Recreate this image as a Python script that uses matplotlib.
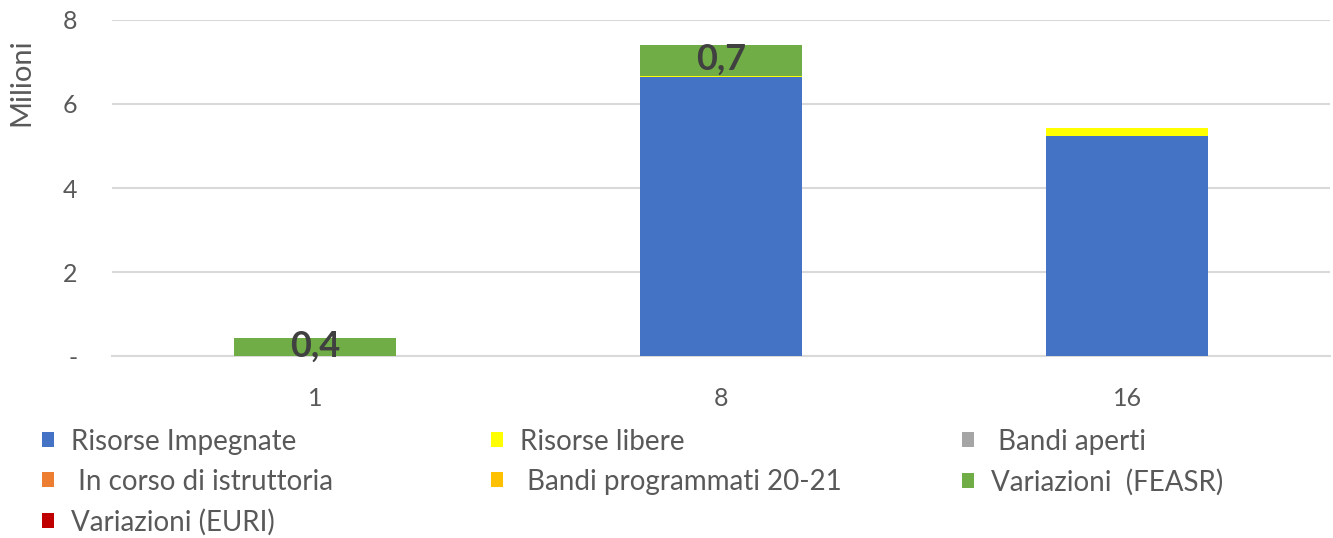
import numpy as np
import matplotlib
matplotlib.use('Agg')
import matplotlib.pyplot as plt
from matplotlib.patches import Patch

# Dati (milioni)
categorie = ['1', '8', '16']
risorse_impegnate = [0.0, 6.63, 5.23]
risorse_libere = [0.0, 0.03, 0.19]
bandi_aperti = [0.0, 0.0, 0.0]
in_istruttoria = [0.0, 0.0, 0.0]
bandi_programmati = [0.0, 0.0, 0.0]
variazioni_feasr = [0.43, 0.74, 0.0]
variazioni_euri = [0.0, 0.0, 0.0]
etichette_feasr = ['0,4', '0,7', '']

serie = [
    ('Risorse Impegnate', risorse_impegnate, '#4472C4'),
    ('Risorse libere', risorse_libere, '#FFFF00'),
    (' Bandi aperti', bandi_aperti, '#A5A5A5'),
    (' In corso di istruttoria', in_istruttoria, '#ED7D31'),
    (' Bandi programmati 20-21', bandi_programmati, '#FFC000'),
    ('Variazioni  (FEASR)', variazioni_feasr, '#70AD47'),
    ('Variazioni (EURI)', variazioni_euri, '#C00000'),
]

plt.rcParams['font.family'] = ['Lato', 'DejaVu Sans']
testo = '#595959'

fig = plt.figure(figsize=(13.33, 5.38), dpi=100)
ax = fig.add_axes([0.084, 0.338, 0.914, 0.625])

x = np.arange(len(categorie))
base = np.zeros(len(categorie))
for nome, valori, colore in serie:
    valori = np.array(valori)
    ax.bar(x, valori, 0.4, bottom=base, color=colore, zorder=3)
    if nome == 'Variazioni  (FEASR)':
        for xi, b, v, t in zip(x, base, valori, etichette_feasr):
            if t:
                ax.text(xi, b + v / 2 + 0.03, t, ha='center', va='center',
                        fontsize=26, fontweight='bold', color='#404040', zorder=4)
    base = base + valori

ax.set_xlim(-0.5, 2.5)
ax.set_ylim(0, 8)
ax.set_yticks([0, 2, 4, 6, 8])
ax.set_yticklabels(['-', '2', '4', '6', '8'])
ax.set_xticks(x)
ax.set_xticklabels(categorie)
ax.tick_params(axis='both', length=0, labelsize=18, colors=testo)
ax.tick_params(axis='y', pad=25)
ax.tick_params(axis='x', pad=22)
ax.grid(axis='y', color='#D9D9D9', linewidth=1.5, zorder=0)
for s in ['top', 'right', 'left']:
    ax.spines[s].set_visible(False)
ax.spines['bottom'].set_color('#D9D9D9')
ax.spines['bottom'].set_linewidth(1.5)
ax.set_ylabel('Milioni', fontsize=21, color=testo)
ax.yaxis.set_label_coords(-0.064, 0.815)

# Legenda in tre colonne, righe ordinate come nell'originale
maniglie = [Patch(facecolor=c, label=n) for n, _, c in serie]
colonne = [[0, 3, 6], [1, 4], [2, 5]]
pos_x = [0.0315, 0.368, 0.7215]
for idx, px in zip(colonne, pos_x):
    leg = fig.legend(handles=[maniglie[i] for i in idx], loc='upper left',
                     bbox_to_anchor=(px, 0.203), frameon=False, fontsize=20,
                     handlelength=0.45, handleheight=0.45, handletextpad=0.6,
                     labelspacing=0.5, borderaxespad=0, borderpad=0)
    for t in leg.get_texts():
        t.set_color(testo)

fig.savefig('out.png', dpi=100)
